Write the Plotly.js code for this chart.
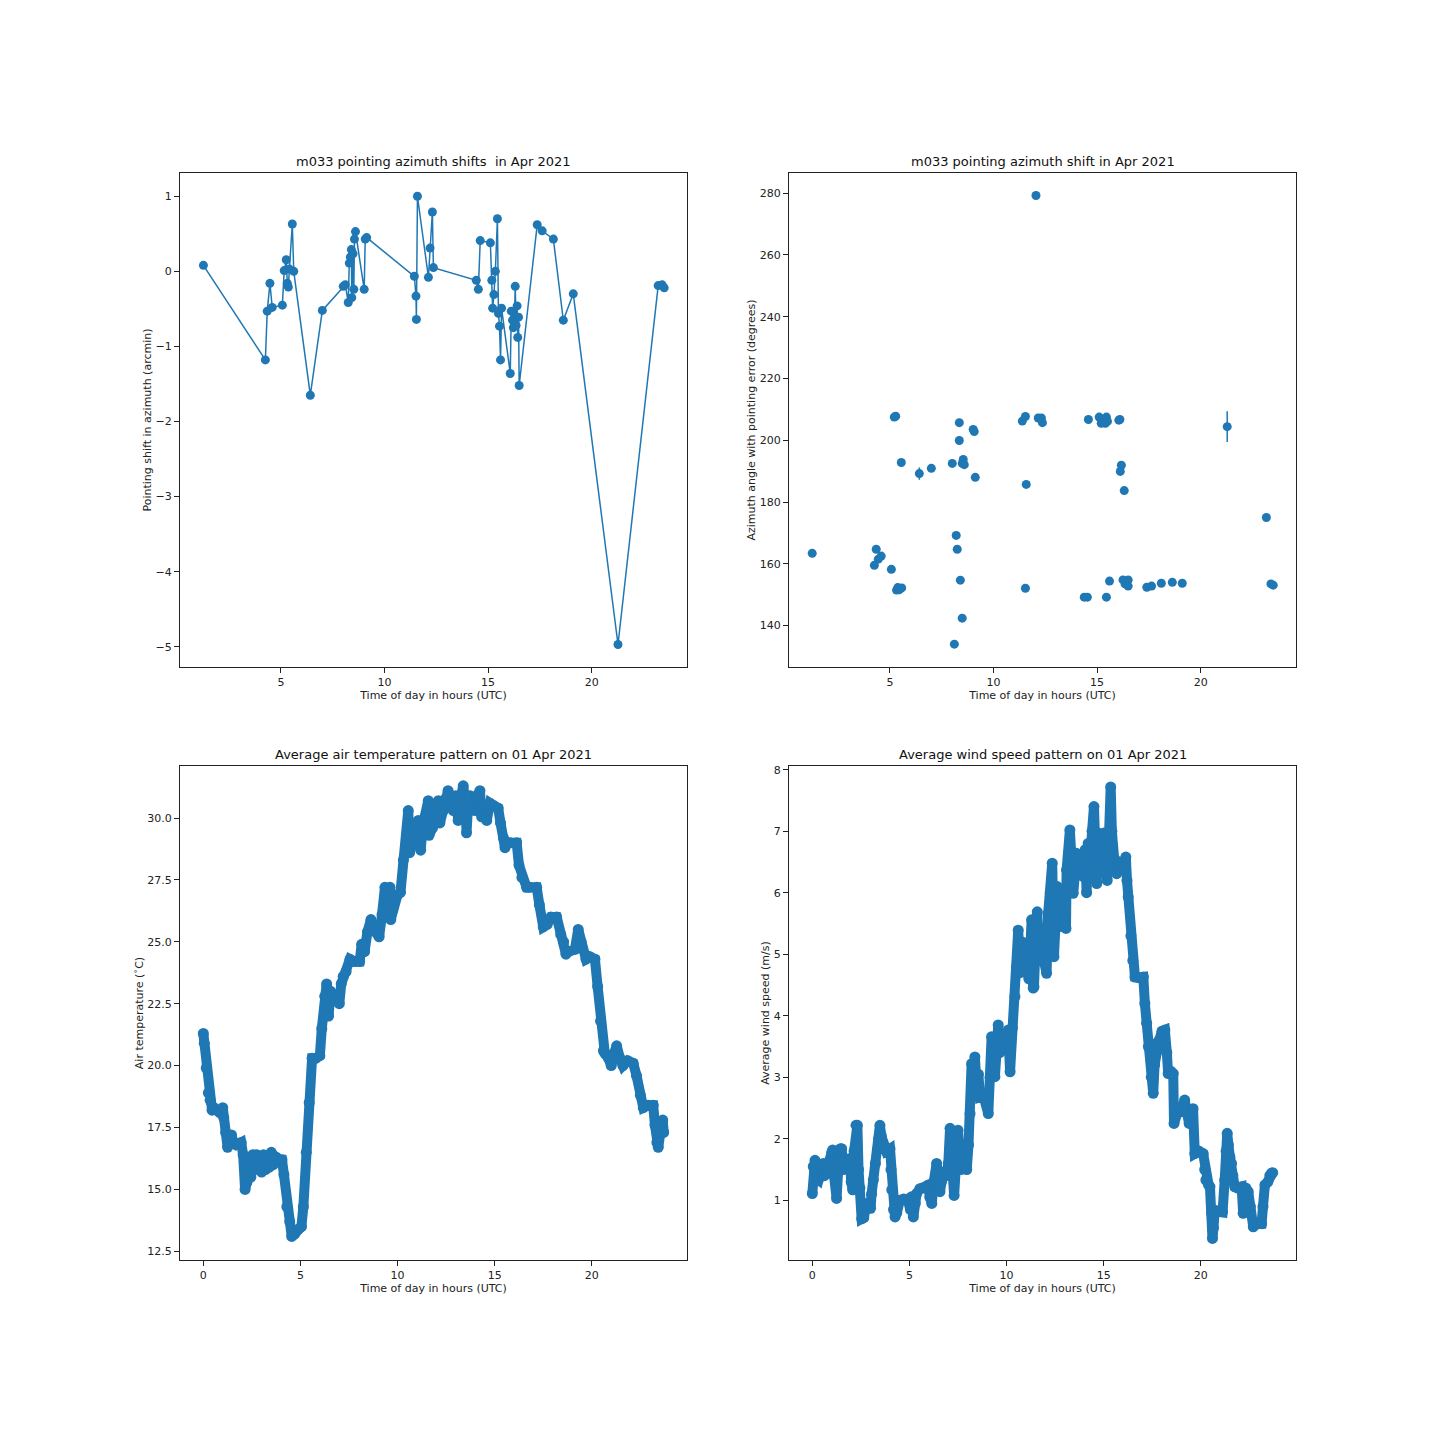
<!DOCTYPE html>
<html>
<head>
<meta charset="utf-8">
<script src="https://cdn.plot.ly/plotly-3.0.1.min.js"></script>
<style>html,body{margin:0;padding:0;background:#fff}#chart{width:1440px;height:1440px}</style>
</head>
<body>
<div id="chart"></div>
<script>
// ---- Top-left: pointing azimuth shifts (arcmin) ----
const shiftTime = [1.26,4.25,4.34,4.47,4.58,5.07,5.16,5.26,5.31,5.36,5.41,5.55,5.62,6.42,7.00,8.01,8.11,8.25,8.30,8.35,8.40,8.42,8.48,8.52,8.55,8.60,9.02,9.07,9.14,11.44,11.52,11.54,11.59,12.12,12.20,12.31,12.36,14.43,14.53,14.62,15.11,15.18,15.22,15.28,15.35,15.45,15.50,15.55,15.60,15.65,16.07,16.12,16.18,16.22,16.27,16.31,16.35,16.40,16.43,16.47,16.50,17.37,17.61,18.15,18.63,19.11,21.27,23.21,23.40,23.50];
const shiftValue = [0.08,-1.18,-0.53,-0.16,-0.48,-0.45,0.01,0.155,-0.16,-0.21,0.03,0.63,0.0,-1.65,-0.52,-0.20,-0.18,-0.415,0.11,0.19,0.29,-0.35,0.235,-0.24,0.43,0.53,-0.24,0.43,0.45,-0.066,-0.33,-0.64,1.0,-0.08,0.31,0.79,0.05,-0.12,-0.24,0.41,0.38,-0.12,-0.49,-0.31,0.0,0.70,-0.56,-0.73,-1.18,-0.49,-1.36,-0.53,-0.65,-0.75,-0.62,-0.20,-0.72,-0.46,-0.88,-0.61,-1.52,0.62,0.54,0.43,-0.65,-0.30,-4.97,-0.19,-0.18,-0.22];

// ---- Top-right: azimuth angle with pointing error (degrees) ----
const azTime = [1.25,4.25,4.34,4.44,4.58,5.07,5.21,5.28,5.32,5.38,5.44,5.50,5.57,5.55,6.42,7.00,8.01,8.11,8.20,8.25,8.35,8.35,8.40,8.49,8.49,8.54,8.59,9.02,9.07,9.12,11.39,11.54,11.54,11.58,12.05,12.16,12.31,12.36,14.38,14.53,14.58,15.10,15.20,15.30,15.40,15.45,15.45,15.50,15.60,16.05,16.10,16.12,16.17,16.25,16.31,16.35,16.50,16.50,17.40,17.63,18.10,18.63,19.11,21.28,23.17,23.39,23.50];
const azValue = [163.4,159.5,164.7,161.5,162.5,158.2,207.5,207.8,151.5,152.3,151.6,152.0,152.2,192.8,189.2,190.9,192.5,134.0,169.2,164.7,205.7,199.9,154.7,142.4,192.5,193.8,192.1,203.5,202.8,188.0,206.2,207.7,152.1,185.7,279.2,207.2,207.2,205.7,149.2,149.2,206.7,207.5,205.5,206.8,205.5,207.5,149.2,206.1,154.4,206.5,206.7,189.9,191.9,154.8,183.7,153.5,154.8,152.8,152.4,152.8,153.7,154.0,153.7,204.4,175.0,153.5,153.1];
const azError = [0.5,0.5,0.5,0.5,0.5,0.5,0.5,0.5,0.5,0.5,0.5,0.5,0.5,0.5,2.0,0.5,0.5,0.5,0.5,0.5,0.5,0.5,0.5,0.5,0.5,0.5,0.5,0.5,0.5,0.5,0.5,0.5,0.5,0.5,0.5,0.5,0.5,0.5,0.5,0.5,0.5,0.5,0.5,0.5,0.5,0.5,0.5,0.5,0.5,0.5,0.5,0.5,0.5,0.5,0.5,0.5,0.5,0.5,0.5,0.5,0.5,0.5,0.5,5.0,0.5,0.5,0.5];

// ---- Bottom-left: air temperature (deg C) ----
const tempTime = [0.00,0.05,0.15,0.26,0.35,0.45,0.55,0.70,0.85,1.00,1.05,1.15,1.25,1.35,1.45,1.55,1.70,1.95,2.05,2.15,2.25,2.35,2.45,2.55,2.65,2.75,2.90,3.00,3.10,3.20,3.30,3.40,3.50,3.60,3.75,3.90,4.05,4.15,4.30,4.45,4.55,4.70,4.90,5.05,5.15,5.30,5.45,5.60,5.80,6.00,6.10,6.25,6.35,6.45,6.55,6.65,6.80,7.00,7.10,7.20,7.35,7.55,7.80,8.05,8.15,8.30,8.45,8.63,8.75,8.90,9.05,9.20,9.35,9.50,9.61,9.65,9.75,10.00,10.15,10.30,10.45,10.55,10.62,10.80,10.95,11.07,11.19,11.30,11.45,11.58,11.62,11.80,11.95,12.10,12.18,12.35,12.50,12.60,12.75,12.87,13.00,13.12,13.25,13.38,13.50,13.55,13.65,13.73,13.85,13.98,14.10,14.24,14.33,14.45,14.59,14.76,14.95,15.18,15.30,15.45,15.53,15.65,15.80,16.13,16.25,16.40,16.64,16.80,17.16,17.30,17.50,17.70,17.90,18.19,18.40,18.55,18.67,18.80,19.13,19.30,19.45,19.70,19.90,20.16,20.30,20.45,20.60,20.67,20.85,21.00,21.15,21.28,21.45,21.60,21.85,22.13,22.30,22.50,22.65,22.90,23.16,23.25,23.35,23.42,23.55,23.65,23.70];
const tempValue = [21.3,20.9,19.9,18.9,18.6,18.2,18.3,18.2,18.1,18.3,17.9,17.3,16.7,16.9,17.2,16.9,16.8,16.9,16.4,15.0,15.3,16.0,15.5,16.4,15.8,16.4,16.3,15.7,16.4,15.8,16.3,15.9,16.5,16.0,16.3,16.2,16.2,15.6,14.3,13.7,13.1,13.2,13.4,13.5,14.3,16.5,18.5,20.3,20.3,20.4,21.5,22.8,23.3,22.0,23.0,22.9,22.7,22.5,23.3,23.6,23.8,24.3,24.2,24.2,24.9,24.6,25.4,25.9,25.5,25.4,25.2,26.1,27.2,26.5,27.2,25.9,26.3,26.9,27.0,28.3,28.6,30.3,28.6,29.4,29.8,29.9,28.7,29.7,30.1,30.7,29.3,29.6,30.4,30.7,29.8,30.3,30.8,31.1,30.6,30.3,30.9,29.9,30.8,31.3,30.6,29.4,30.8,30.9,30.5,30.3,30.9,31.1,30.05,30.5,29.9,30.6,30.5,30.4,29.8,29.2,28.8,29.0,29.0,29.0,28.1,27.6,27.2,27.2,27.2,26.5,25.6,25.7,26.0,26.0,25.3,25.0,24.5,24.6,24.7,25.5,25.0,24.3,24.4,24.3,23.2,21.8,20.6,20.5,20.3,20.0,20.5,20.8,20.3,20.0,20.2,20.1,19.6,18.8,18.3,18.4,18.4,17.6,16.9,16.7,17.4,17.8,17.3];

// ---- Bottom-right: average wind speed (m/s) ----
const windTime = [0.00,0.05,0.14,0.22,0.31,0.45,0.57,0.62,0.75,0.90,1.00,1.05,1.12,1.25,1.35,1.45,1.51,1.60,1.68,1.80,1.94,2.00,2.08,2.15,2.25,2.32,2.38,2.45,2.54,2.65,2.80,2.90,3.00,3.05,3.14,3.25,3.35,3.42,3.48,3.55,3.65,3.80,4.00,4.05,4.09,4.18,4.26,4.35,4.51,4.70,4.90,5.05,5.12,5.20,5.30,5.37,5.54,5.75,5.97,6.05,6.15,6.25,6.40,6.50,6.57,6.65,6.74,6.90,7.00,7.09,7.20,7.30,7.40,7.50,7.57,7.65,7.80,7.95,8.04,8.12,8.20,8.30,8.37,8.45,8.55,8.63,8.80,9.06,9.15,9.23,9.32,9.40,9.50,9.57,9.65,9.75,9.90,10.09,10.18,10.30,10.43,10.52,10.60,10.70,10.80,10.86,11.00,11.15,11.29,11.37,11.41,11.50,11.58,11.65,11.72,11.85,12.06,12.14,12.25,12.35,12.44,12.52,12.61,12.68,12.75,12.90,13.06,13.09,13.18,13.26,13.35,13.43,13.52,13.60,13.78,13.95,14.05,14.12,14.20,14.30,14.40,14.50,14.58,14.64,14.72,14.85,15.01,15.10,15.18,15.28,15.36,15.42,15.49,15.58,15.67,15.76,15.84,16.00,16.14,16.20,16.26,16.40,16.50,16.61,16.80,17.04,17.12,17.21,17.30,17.45,17.55,17.62,17.72,17.85,18.00,18.15,18.25,18.32,18.45,18.58,18.62,18.75,18.88,19.00,19.10,19.17,19.30,19.40,19.50,19.60,19.69,19.90,20.12,20.20,20.26,20.40,20.47,20.55,20.60,20.65,20.72,20.90,21.12,21.23,21.30,21.36,21.42,21.50,21.58,21.65,21.75,21.90,22.10,22.18,22.25,22.32,22.44,22.55,22.70,22.80,22.95,23.13,23.20,23.30,23.45,23.55,23.64,23.70];
const windValue = [1.11,1.55,1.65,1.35,1.33,1.55,1.60,1.40,1.55,1.62,1.78,1.82,1.40,1.03,1.60,1.84,1.84,1.50,1.65,1.62,1.68,1.30,1.17,1.80,2.22,2.22,1.50,1.20,0.70,0.72,0.95,0.90,0.87,1.10,1.33,1.60,1.82,2.00,2.22,2.05,1.93,1.80,1.84,1.50,1.17,0.85,0.73,0.80,1.00,1.02,1.02,0.85,1.06,0.73,0.95,1.11,1.19,1.20,1.25,1.05,0.95,1.30,1.60,1.35,1.14,1.30,1.46,1.40,1.60,2.17,1.60,1.08,1.60,2.14,1.80,1.50,1.55,1.50,1.90,2.41,3.22,2.80,3.33,2.90,3.05,2.68,2.70,2.41,3.00,3.66,3.20,3.01,3.50,3.85,3.40,3.50,3.55,3.77,3.09,3.80,4.31,4.80,5.39,4.70,5.20,4.85,4.80,4.60,5.56,4.45,4.47,5.20,5.69,5.20,4.93,5.00,4.69,5.66,6.00,6.48,4.96,5.60,6.10,5.80,5.45,5.50,5.42,6.37,6.60,7.02,6.50,5.99,6.30,6.64,6.40,6.26,6.70,6.00,6.80,6.40,7.00,7.40,6.60,6.15,6.97,6.70,6.97,6.50,6.20,7.00,7.72,7.00,6.58,6.40,6.31,6.50,6.48,6.40,6.58,6.20,5.93,5.30,4.90,4.63,4.62,4.63,4.20,3.88,3.50,3.00,2.74,3.20,3.55,3.60,3.75,3.77,3.40,3.06,3.10,3.06,2.25,2.40,2.50,2.47,2.55,2.63,2.40,2.25,2.40,2.49,1.76,1.80,1.76,1.50,1.33,1.25,1.22,0.80,0.38,0.55,0.84,0.82,0.81,1.33,1.80,2.09,1.90,1.70,1.60,1.40,1.22,1.20,1.22,0.79,0.95,1.20,1.14,0.90,0.57,0.62,0.62,0.62,0.90,1.25,1.30,1.40,1.44,1.45];

const C = '#1f77b4';
const FONT = 'DejaVu Sans, Liberation Sans, sans-serif';

const traces = [
  {x: shiftTime, y: shiftValue, xaxis: 'x', yaxis: 'y', type: 'scatter', mode: 'lines+markers',
   line: {color: C, width: 1.5}, marker: {color: C, size: 9}},
  {x: azTime, y: azValue, xaxis: 'x2', yaxis: 'y2', type: 'scatter', mode: 'markers',
   marker: {color: C, size: 9},
   error_y: {type: 'data', array: azError, visible: true, color: C, thickness: 1.5, width: 0}},
  {x: tempTime, y: tempValue, xaxis: 'x3', yaxis: 'y3', type: 'scatter', mode: 'lines+markers',
   line: {color: C, width: 10}, marker: {color: C, size: 11}},
  {x: windTime, y: windValue, xaxis: 'x4', yaxis: 'y4', type: 'scatter', mode: 'lines+markers',
   line: {color: C, width: 10}, marker: {color: C, size: 11}}
];

function ax(domain, range, tickvals, ticktext, anchor, title, standoff) {
  const a = {
    domain: domain, range: range, anchor: anchor, autorange: false,
    showline: true, mirror: true, linecolor: '#222', linewidth: 1,
    ticks: 'outside', ticklen: 5, tickwidth: 1, tickcolor: '#222',
    showgrid: false, zeroline: false,
    tickfont: {family: FONT, size: 11, color: '#222'},
    tickmode: 'array', tickvals: tickvals
  };
  if (ticktext) a.ticktext = ticktext;
  if (title) a.title = {text: title, font: {family: FONT, size: 11, color: '#222'}, standoff: standoff};
  return a;
}

const xL = [180/1440, 687/1440], xR = [789/1440, 1296/1440];
const yT = [1 - 667/1440, 1 - 173/1440], yB = [1 - 1260/1440, 1 - 766/1440];

const xTopTicks = [5, 10, 15, 20];
const xBotTicks = [0, 5, 10, 15, 20];
const shiftTicks = [-5, -4, -3, -2, -1, 0, 1];
const shiftTickText = ['\u22125', '\u22124', '\u22123', '\u22122', '\u22121', '0', '1'];
const azTicks = [140, 160, 180, 200, 220, 240, 260, 280];
const tempTicks = [12.5, 15.0, 17.5, 20.0, 22.5, 25.0, 27.5, 30.0];
const tempTickText = ['12.5', '15.0', '17.5', '20.0', '22.5', '25.0', '27.5', '30.0'];
const windTicks = [1, 2, 3, 4, 5, 6, 7, 8];

const xtitle = 'Time of day in hours (UTC)';
const layout = {
  width: 1440, height: 1440,
  margin: {l: 0, r: 0, t: 0, b: 0},
  paper_bgcolor: '#fff', plot_bgcolor: '#fff',
  showlegend: false,
  font: {family: FONT, color: '#222'},
  xaxis: ax(xL, [0.13, 24.6], xTopTicks, null, 'y', xtitle, 0),
  yaxis: ax(yT, [-5.27, 1.31], shiftTicks, shiftTickText, 'x', 'Pointing shift in azimuth (arcmin)', 1),
  xaxis2: ax(xR, [0.13, 24.6], xTopTicks, null, 'y2', xtitle, 0),
  yaxis2: ax(yT, [126.6, 286.5], azTicks, null, 'x2', 'Azimuth angle with pointing error (degrees)', 1),
  xaxis3: ax(xL, [-1.2, 24.9], xBotTicks, null, 'y3', xtitle, 0),
  yaxis3: ax(yB, [12.15, 32.1], tempTicks, tempTickText, 'x3', 'Air temperature (<sup>\u2218</sup>C)', 1),
  xaxis4: ax(xR, [-1.2, 24.9], xBotTicks, null, 'y4', xtitle, 0),
  yaxis4: ax(yB, [0.03, 8.06], windTicks, null, 'x4', 'Average wind speed (m/s)', 1),
  annotations: [
    {text: 'm033 pointing azimuth shifts&nbsp;&nbsp;in Apr 2021', x: (xL[0]+xL[1])/2, y: yT[1], xref: 'paper', yref: 'paper', xanchor: 'center', yanchor: 'bottom', yshift: 2, showarrow: false, font: {family: FONT, size: 13, color: '#111'}},
    {text: 'm033 pointing azimuth shift in Apr 2021', x: (xR[0]+xR[1])/2, y: yT[1], xref: 'paper', yref: 'paper', xanchor: 'center', yanchor: 'bottom', yshift: 2, showarrow: false, font: {family: FONT, size: 13, color: '#111'}},
    {text: 'Average air temperature pattern on 01 Apr 2021', x: (xL[0]+xL[1])/2, y: yB[1], xref: 'paper', yref: 'paper', xanchor: 'center', yanchor: 'bottom', yshift: 2, showarrow: false, font: {family: FONT, size: 13, color: '#111'}},
    {text: 'Average wind speed pattern on 01 Apr 2021', x: (xR[0]+xR[1])/2, y: yB[1], xref: 'paper', yref: 'paper', xanchor: 'center', yanchor: 'bottom', yshift: 2, showarrow: false, font: {family: FONT, size: 13, color: '#111'}}
  ]
};

Plotly.newPlot('chart', traces, layout, {displayModeBar: false, staticPlot: true});
</script>
</body>
</html>
